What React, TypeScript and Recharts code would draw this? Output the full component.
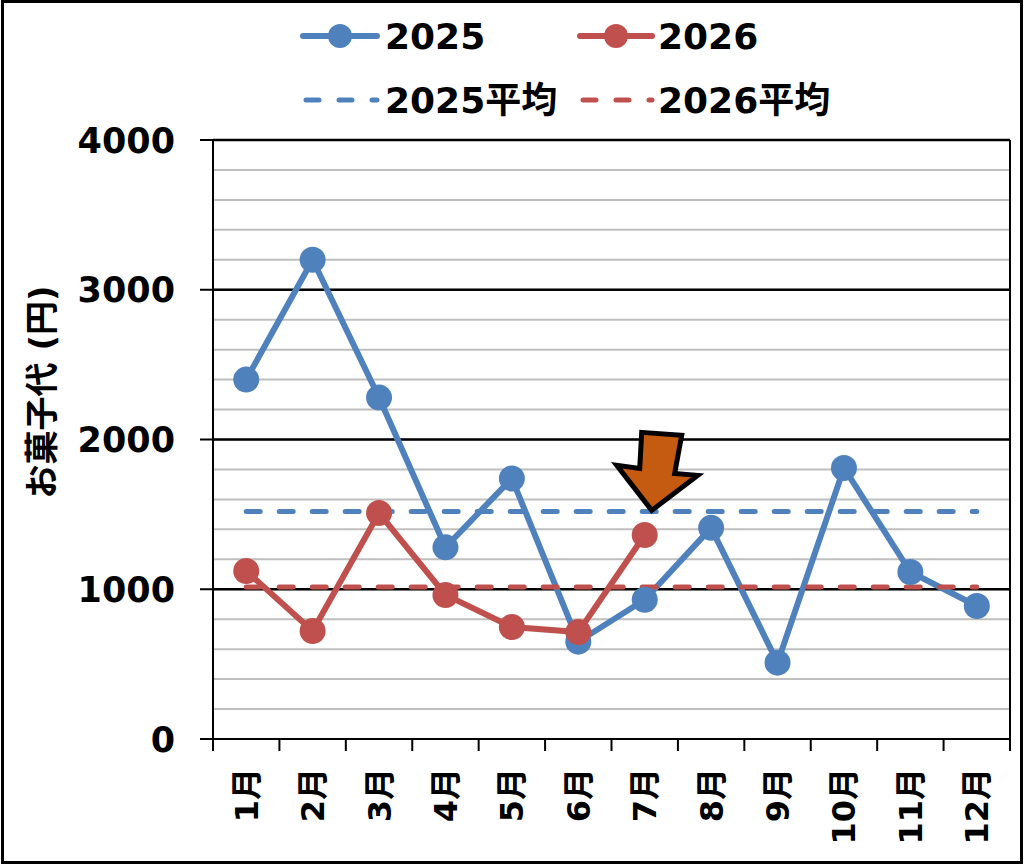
import { LineChart, Line, XAxis, YAxis, CartesianGrid, ReferenceLine, ReferenceDot } from "recharts";

const months = ["1月", "2月", "3月", "4月", "5月", "6月", "7月", "8月", "9月", "10月", "11月", "12月"];
const sales2025 = [2400, 3200, 2280, 1280, 1740, 650, 930, 1410, 510, 1810, 1115, 888];
const sales2026 = [1122, 721, 1509, 962, 748, 714, 1362];
const avg2025 = 1520;
const avg2026 = 1015;
const yTicks = [0, 200, 400, 600, 800, 1000, 1200, 1400, 1600, 1800, 2000, 2200, 2400, 2600, 2800, 3000, 3200, 3400, 3600, 3800, 4000];
const majorTicks = [1000, 2000, 3000, 4000];

const BLUE = "#4F81BD";
const RED = "#C0504D";
const FONT = "'DejaVu Sans', 'Noto Sans CJK JP', sans-serif";

// layout of the plot box
const PLOT_LEFT = 213;
const PLOT_RIGHT = 1010;
const PLOT_BOTTOM = 739;
const BAND = (PLOT_RIGHT - PLOT_LEFT) / months.length;

const data = months.map((m, i) => ({
  month: m,
  y2025: sales2025[i],
  y2026: i < sales2026.length ? sales2026[i] : null,
  avg2025,
  avg2026,
}));

function YTick(props: any) {
  const { y, payload } = props;
  if (payload.value % 1000 !== 0) return <g />;
  return (
    <g>
      <line x1={PLOT_LEFT - 13} x2={PLOT_LEFT} y1={y} y2={y} stroke="#000" strokeWidth={2} />
      <text x={175} y={y} dy="0.36em" textAnchor="end" fontSize={35} fontWeight="bold" fontFamily={FONT} fill="#000">
        {payload.value}
      </text>
    </g>
  );
}

function XTick(props: any) {
  const { x, payload, index } = props;
  const top = 768;
  return (
    <g>
      <line x1={x - BAND / 2} x2={x - BAND / 2} y1={PLOT_BOTTOM} y2={PLOT_BOTTOM + 12} stroke="#000" strokeWidth={2} />
      {index === months.length - 1 && (
        <line x1={x + BAND / 2} x2={x + BAND / 2} y1={PLOT_BOTTOM} y2={PLOT_BOTTOM + 12} stroke="#000" strokeWidth={2} />
      )}
      <text
        x={x}
        y={top}
        dy="0.36em"
        textAnchor="end"
        transform={`rotate(-90, ${x}, ${top})`}
        fontSize={32}
        fontWeight="bold"
        fontFamily={FONT}
        fill="#000"
      >
        {payload.value}
      </text>
    </g>
  );
}

function Arrow(props: any) {
  const tx = props.cx + 7;
  const ty = props.cy - 1;
  const pts = [
    [-10, -78],
    [30, -75],
    [23, -37],
    [46, -35],
    [0, 0],
    [-35, -45],
    [-12, -42],
  ]
    .map(([dx, dy]) => `${tx + dx},${ty + dy}`)
    .join(" ");
  return <polygon points={pts} fill="#C55A11" stroke="#000" strokeWidth={5} strokeLinejoin="miter" />;
}

function LegendBox() {
  const txt = { fontSize: 36, fontWeight: "bold" as const, fontFamily: FONT, fill: "#000" };
  return (
    <svg width={1024} height={130} style={{ position: "absolute", left: 0, top: 0 }}>
      <line x1={303} x2={377} y1={36} y2={36} stroke={BLUE} strokeWidth={6} strokeLinecap="round" />
      <circle cx={340} cy={36} r={12} fill={BLUE} />
      <text x={385} y={36} dy="0.36em" {...txt}>2025</text>
      <line x1={580} x2={652} y1={36} y2={36} stroke={RED} strokeWidth={6} strokeLinecap="round" />
      <circle cx={616} cy={36} r={12} fill={RED} />
      <text x={658} y={36} dy="0.36em" {...txt}>2026</text>
      <line x1={306} x2={377} y1={100} y2={100} stroke={BLUE} strokeWidth={5} strokeLinecap="round" strokeDasharray="13 20" />
      <text x={385} y={100} dy="0.36em" {...txt}>2025平均</text>
      <line x1={583} x2={652} y1={100} y2={100} stroke={RED} strokeWidth={5} strokeLinecap="round" strokeDasharray="13 20" />
      <text x={658} y={100} dy="0.36em" {...txt}>2026平均</text>
    </svg>
  );
}

export default function App() {
  return (
    <div style={{ position: "absolute", left: 0, top: 0, width: 1024, height: 865, background: "#fff" }}>
      <LineChart width={1024} height={865} data={data} margin={{ top: 140, right: 0, bottom: 0, left: 0 }}>
        <CartesianGrid vertical={false} stroke="#BFBFBF" strokeWidth={2} />
        <XAxis
          dataKey="month"
          scale="band"
          interval={0}
          height={126}
          tickLine={false}
          axisLine={{ stroke: "#000", strokeWidth: 2 }}
          tick={<XTick />}
        />
        <YAxis
          domain={[0, 4000]}
          ticks={yTicks}
          interval={0}
          width={PLOT_LEFT}
          tickLine={false}
          axisLine={{ stroke: "#000", strokeWidth: 2 }}
          tick={<YTick />}
          label={{
            content: () => (
              <text
                x={42}
                y={392}
                dy="0.36em"
                textAnchor="middle"
                transform="rotate(-90, 42, 392)"
                fontSize={34}
                fontWeight="bold"
                fontFamily={FONT}
                fill="#000"
              >
                お菓子代 (円)
              </text>
            ),
          }}
        />
        <YAxis
          yAxisId="right"
          orientation="right"
          domain={[0, 4000]}
          width={1024 - PLOT_RIGHT}
          tick={false}
          tickLine={false}
          axisLine={{ stroke: "#000", strokeWidth: 2 }}
        />
        {majorTicks.map((v) => (
          <ReferenceLine key={v} y={v} stroke="#000" strokeWidth={2.5} />
        ))}
        <Line
          dataKey="y2025"
          stroke={BLUE}
          strokeWidth={6}
          dot={{ r: 13, fill: BLUE, stroke: BLUE, strokeWidth: 0 }}
          activeDot={false}
          isAnimationActive={false}
        />
        <Line
          dataKey="y2026"
          stroke={RED}
          strokeWidth={6}
          dot={{ r: 13, fill: RED, stroke: RED, strokeWidth: 0 }}
          activeDot={false}
          isAnimationActive={false}
        />
        <Line
          dataKey="avg2025"
          stroke={BLUE}
          strokeWidth={5}
          strokeLinecap="round"
          strokeDasharray="14 19"
          dot={false}
          activeDot={false}
          isAnimationActive={false}
        />
        <Line
          dataKey="avg2026"
          stroke={RED}
          strokeWidth={5}
          strokeLinecap="round"
          strokeDasharray="14 19"
          dot={false}
          activeDot={false}
          isAnimationActive={false}
        />
        <ReferenceDot x="7月" y={avg2025} r={0} shape={<Arrow />} />
      </LineChart>
      <LegendBox />
      <div
        style={{
          position: "absolute",
          left: 1,
          top: 0,
          width: 1022,
          height: 864,
          border: "3px solid #000",
          boxSizing: "border-box",
          pointerEvents: "none",
        }}
      />
    </div>
  );
}
